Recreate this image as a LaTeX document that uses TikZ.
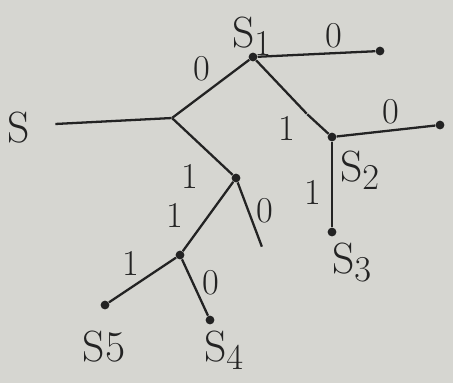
\documentclass[tikz,border=0pt]{standalone}
\usepackage{xcolor}
\usepackage{tikz}
\usetikzlibrary{positioning}
\definecolor{paper}{RGB}{214,214,209}
\definecolor{ink}{RGB}{35,35,35}
\tikzset{
  dot/.style={circle, fill=ink, inner sep=0pt, minimum size=5pt},
  freeend/.style={inner sep=0pt, minimum size=0pt},
  edge/.style={draw=ink, line width=1.3pt},
  bitlab/.style={text=ink, font=\huge},
  symlab/.style={text=ink, font=\Huge}
}
\begin{document}
\begin{tikzpicture}[x=0.02cm, y=-0.02cm]
  % paper
  \fill[paper] (0,0) rectangle (453,383);
  \useasboundingbox (0,0) rectangle (453,383);

  % tree nodes
  \node[freeend] (start) at (55,124) {};
  \node[freeend] (root) at (172,118) {};
  \node[dot] (s1) at (253,57) {};
  \node[dot] (e1) at (380,51) {};
  \node[freeend] (bend) at (307,114) {};
  \node[dot] (s2) at (332,137) {};
  \node[dot] (e2) at (440,125) {};
  \node[dot] (s3) at (332,232) {};
  \node[dot] (na) at (236,178) {};
  \node[freeend] (e3) at (262,247) {};
  \node[dot] (nb) at (180,255) {};
  \node[dot] (s5) at (105,305) {};
  \node[dot] (s4) at (210,320) {};

  % branches
  \draw[edge] (start) -- (root);
  \draw[edge] (root) -- (s1);
  \draw[edge] (s1) -- (e1);
  \draw[edge] (s1) -- (bend) -- (s2);
  \draw[edge] (s2) -- (e2);
  \draw[edge] (s2) -- (s3);
  \draw[edge] (root) -- (na);
  \draw[edge] (na) -- (e3);
  \draw[edge] (na) -- (nb);
  \draw[edge] (nb) -- (s5);
  \draw[edge] (nb) -- (s4);

  % symbols
  \node[symlab] (ls) at (19,128) {S};
  \node[symlab] (ls1) at (252,36) {S$_1$};
  \node[symlab] (ls2) at (360,170) {S$_2$};
  \node[symlab] (ls3) at (352,262) {S$_3$};
  \node[symlab] (ls5) at (104,347) {S5};
  \node[symlab] (ls4) at (224,350) {S$_4$};

  % bits
  \node[bitlab] (b01) at (202,69) {0};
  \node[bitlab] (b02) at (334,36) {0};
  \node[bitlab] (b03) at (287,128) {1};
  \node[bitlab] (b04) at (391,112) {0};
  \node[bitlab] (b05) at (313,192) {1};
  \node[bitlab] (b06) at (190,176) {1};
  \node[bitlab] (b07) at (265,211) {0};
  \node[bitlab] (b08) at (175,215) {1};
  \node[bitlab] (b09) at (131,263) {1};
  \node[bitlab] (b10) at (211,283) {0};
\end{tikzpicture}
\end{document}
